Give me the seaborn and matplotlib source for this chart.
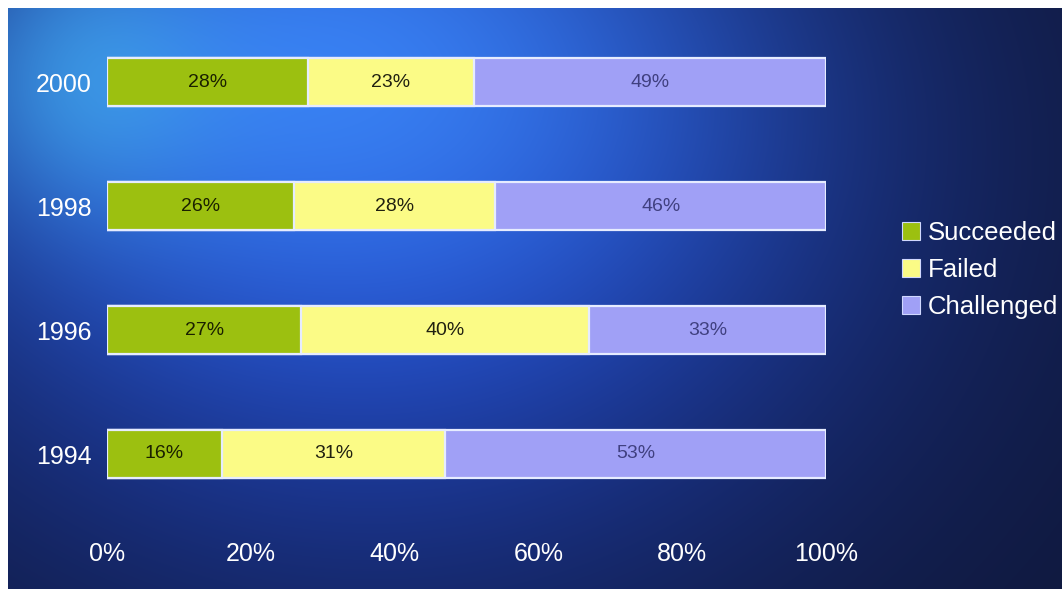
import numpy as np
import pandas as pd
import matplotlib
matplotlib.use("Agg")
import matplotlib.pyplot as plt
import seaborn as sns
from matplotlib.patches import Patch

# ---- data ----
years = ["2000", "1998", "1996", "1994"]
succeeded = [28, 26, 27, 16]
failed = [23, 28, 40, 31]
challenged = [49, 46, 33, 53]
series_names = ["Succeeded", "Failed", "Challenged"]
x_ticks = [0, 20, 40, 60, 80, 100]

colors = {"Succeeded": "#9cc010", "Failed": "#fbfb86", "Challenged": "#a0a0f6"}
text_colors = {"Succeeded": "#1a2000", "Failed": "#202010", "Challenged": "#404080"}

sns.set_theme(style="white")
plt.rcParams['font.family'] = ['Liberation Sans Narrow', 'Liberation Sans', 'DejaVu Sans']

df = pd.DataFrame({"year": years, "Succeeded": succeeded,
                   "Failed": failed, "Challenged": challenged})
df["cum_Succeeded"] = df["Succeeded"]
df["cum_Failed"] = df["cum_Succeeded"] + df["Failed"]
df["cum_Challenged"] = df["cum_Failed"] + df["Challenged"]

W_PX, H_PX = 1062, 589
fig = plt.figure(figsize=(W_PX / 100, H_PX / 100), dpi=100)
fig.patch.set_facecolor("white")

# ---- background gradient ----
bg = fig.add_axes([8 / W_PX, 0, 1 - 8 / W_PX, 1 - 8 / H_PX])
H, W = 300, 540
yy, xx = np.mgrid[0:1:H * 1j, 0:1:W * 1j]
navy = np.array([0.06, 0.09, 0.22])
blue = np.array([0.13, 0.28, 0.78])
bright = np.array([0.22, 0.50, 0.95])
cyan = np.array([0.28, 0.76, 0.96])
w1 = np.exp(-((xx - 0.35) / 0.48) ** 2 - ((yy - 0.30) / 0.72) ** 2)[..., None]
w2 = np.exp(-((xx - 0.30) / 0.32) ** 2 - ((yy - 0.12) / 0.38) ** 2)[..., None]
w3 = 0.5 * np.exp(-((xx - 0.08) / 0.12) ** 2 - ((yy - 0.12) / 0.22) ** 2)[..., None]
img = navy * (1 - w1) + blue * w1
img = img * (1 - w2) + bright * w2
img = img * (1 - w3) + cyan * w3
bg.imshow(np.clip(img, 0, 1), aspect="auto", extent=[0, 1, 1, 0], interpolation="bicubic")
bg.axis("off")

# ---- bars ----
ax = fig.add_axes([107 / W_PX, 1 - 516 / H_PX, 719 / W_PX, 496 / H_PX])
ax.patch.set_alpha(0)
for name in reversed(series_names):
    sns.barplot(data=df, x="cum_" + name, y="year", color=colors[name], orient="h",
                width=0.39, saturation=1, edgecolor="#e6ecff", linewidth=1.6, ax=ax)

for i, yr in enumerate(years):
    left = 0
    for name in series_names:
        v = df.loc[i, name]
        ax.text(left + v / 2, i, f"{v}%", ha="center", va="center",
                fontsize=14, color=text_colors[name])
        left += v

ax.set_xlim(0, 100)
ax.set_ylim(3.5, -0.5)
ax.set_xticks(x_ticks)
ax.set_xticklabels([f"{t}%" for t in x_ticks])
ax.set_xlabel("")
ax.set_ylabel("")
ax.tick_params(axis="x", colors="white", labelsize=18, length=0, pad=19)
ax.tick_params(axis="y", colors="white", labelsize=18, length=0, pad=11)
for s in ax.spines.values():
    s.set_visible(False)

handles = [Patch(facecolor=colors[n], edgecolor="#d0d8ff", linewidth=0.8) for n in series_names]
fig.legend(handles, series_names, loc="center left",
           bbox_to_anchor=(902 / W_PX, 1 - 270 / H_PX), frameon=False,
           fontsize=18.5, labelcolor="white", handlelength=0.7, handleheight=0.7,
           handletextpad=0.3, labelspacing=0.5, borderaxespad=0, borderpad=0)

fig.savefig("out.png", dpi=100)
